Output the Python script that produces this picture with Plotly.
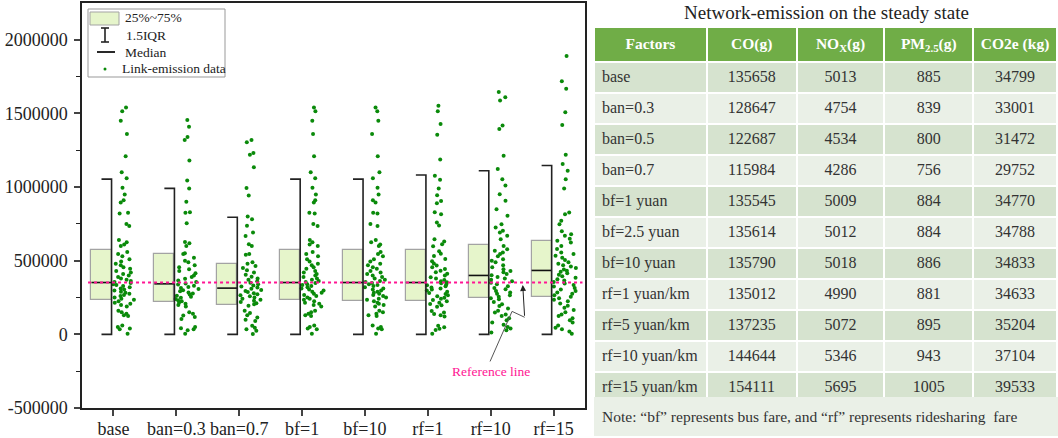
import plotly.graph_objects as go

W, H = 1058, 438

# ---------------- data ----------------
categories = ["base", "ban=0.3", "ban=0.7", "bf=1", "bf=10", "rf=1", "rf=10", "rf=15"]
q1 = [230000, 221000, 200000, 230000, 228000, 225000, 250000, 254000]
median = [352000, 343000, 314000, 352000, 352000, 352000, 400000, 434000]
q3 = [575000, 545000, 480000, 575000, 575000, 570000, 606000, 636000]
whisker_low = [0, 0, 0, 0, 0, 0, 0, 0]
whisker_high = [1054000, 991000, 795000, 1054000, 1054000, 1082000, 1111000, 1147000]
reference_value = 352000

base_pts = [1540000, 1515000, 1450000, 1360000, 1210000, 1100000, 1060000, 995000, 950000, 910000,
            895000, 825000, 820000, 750000, 735000, 640000, 625000, 610000, 600000, 560000,
            545000, 530000, 510000, 495000, 480000, 470000, 455000, 445000, 430000, 420000,
            410000, 400000, 390000, 380000, 370000, 362000, 355000, 348000, 340000, 335000,
            328000, 320000, 312000, 305000, 298000, 290000, 282000, 275000, 268000, 260000,
            250000, 242000, 235000, 225000, 215000, 208000, 200000, 190000, 160000, 150000,
            140000, 130000, 125000, 60000, 50000, 40000, 35000, 5000]
ban03_pts = [1455000, 1410000, 1340000, 1320000, 1180000, 1045000, 990000, 900000, 830000, 825000,
             755000, 628000, 618000, 600000, 550000, 545000, 520000, 500000, 490000, 470000,
             455000, 442000, 430000, 415000, 400000, 390000, 378000, 366000, 355000, 345000,
             338000, 330000, 322000, 315000, 308000, 300000, 292000, 285000, 278000, 270000,
             262000, 255000, 248000, 240000, 232000, 225000, 215000, 208000, 200000, 190000,
             150000, 140000, 128000, 118000, 105000, 50000, 42000, 35000, 28000, 4000]
ban07_pts = [1320000, 1305000, 1232000, 1220000, 1135000, 993000, 943000, 800000, 782000, 737000,
             692000, 668000, 612000, 600000, 545000, 540000, 490000, 480000, 465000, 450000,
             435000, 420000, 405000, 392000, 380000, 370000, 360000, 350000, 340000, 332000,
             325000, 318000, 310000, 302000, 295000, 288000, 280000, 272000, 265000, 258000,
             250000, 242000, 235000, 228000, 220000, 212000, 205000, 195000, 160000, 145000,
             130000, 115000, 100000, 90000, 58000, 45000, 35000, 25000, 3000]
bf1_pts = base_pts
bf10_pts = base_pts
rf1_pts = [1553000, 1515000, 1429000, 1356000, 1188000, 1077000, 1050000, 990000, 945000, 905000,
           890000, 830000, 815000, 760000, 740000, 645000, 630000, 612000, 598000, 565000,
           548000, 532000, 512000, 497000, 482000, 468000, 456000, 444000, 432000, 421000,
           411000, 399000, 388000, 379000, 369000, 361000, 354000, 347000, 339000, 333000,
           327000, 319000, 311000, 304000, 297000, 289000, 281000, 274000, 266000, 259000,
           249000, 241000, 233000, 224000, 214000, 206000, 198000, 188000, 158000, 148000,
           138000, 129000, 122000, 58000, 48000, 38000, 30000, 4000]
rf10_pts = [1645000, 1610000, 1588000, 1418000, 1395000, 1213000, 1122000, 1054000, 1010000, 952000,
            907000, 850000, 805000, 748000, 726000, 703000, 692000, 669000, 646000, 600000,
            578000, 567000, 556000, 545000, 530000, 510000, 500000, 490000, 470000, 455000,
            442000, 430000, 421000, 410000, 401000, 390000, 380000, 370000, 360000, 350000,
            340000, 327000, 315000, 306000, 295000, 285000, 275000, 265000, 255000, 245000,
            238000, 220000, 205000, 193000, 175000, 160000, 148000, 135000, 125000, 110000,
            95000, 80000, 65000, 50000, 40000, 28000, 13000]
rf15_pts = [1890000, 1718000, 1668000, 1508000, 1422000, 1220000, 1156000, 1111000, 1054000, 990000,
            828000, 816000, 771000, 748000, 700000, 680000, 669000, 650000, 635000, 624000,
            600000, 580000, 556000, 545000, 533000, 520000, 505000, 490000, 480000, 470000,
            460000, 450000, 440000, 432000, 425000, 415000, 405000, 395000, 385000, 375000,
            365000, 355000, 345000, 335000, 325000, 315000, 305000, 295000, 285000, 275000,
            265000, 255000, 245000, 235000, 225000, 210000, 195000, 180000, 165000, 150000,
            135000, 125000, 110000, 95000, 80000, 60000, 45000, 34000, 20000, 5000]
points = [base_pts, ban03_pts, ban07_pts, bf1_pts, bf10_pts, rf1_pts, rf10_pts, rf15_pts]

ytick_vals = [-500000, 0, 500000, 1000000, 1500000, 2000000]
ytick_text = ["-500000", "0", "500000", "1000000", "1500000", "2000000"]
yminor_vals = [-250000, 250000, 750000, 1250000, 1750000]

table_title = "Network-emission on the steady state"
table_header = ["Factors", "CO(g)", "NO<sub>X</sub>(g)", "PM<sub>2.5</sub>(g)", "CO2e (kg)"]
factors = ["base", "ban=0.3", "ban=0.5", "ban=0.7", "bf=1 yuan", "bf=2.5 yuan", "bf=10 yuan",
           "rf=1 yuan/km", "rf=5 yuan/km", "rf=10 yuan/km", "rf=15 yuan/km"]
co = [135658, 128647, 122687, 115984, 135545, 135614, 135790, 135012, 137235, 144644, 154111]
nox = [5013, 4754, 4534, 4286, 5009, 5012, 5018, 4990, 5072, 5346, 5695]
pm25 = [885, 839, 800, 756, 884, 884, 886, 881, 895, 943, 1005]
co2e = [34799, 33001, 31472, 29752, 34770, 34788, 34833, 34633, 35204, 37104, 39533]
note_text = "Note: \u201cbf\u201d represents bus fare, and \u201crf\u201d represents ridesharing  fare"

# ---------------- styles ----------------
FONT = "Liberation Serif"
BOX_FILL = "#e6f5cb"
BOX_EDGE = "#a3a3a3"
PT_COLOR = "#0a8a0a"
REF_COLOR = "#ff1493"
HDR_FILL = "#70ad47"
ROW_DARK = "#d6e3cf"
ROW_LIGHT = "#eaf0e7"
NBSP = "\u00a0"


def px(xp):
    return xp / W


def py(yp):
    return 1 - yp / H


idx = list(range(len(categories)))
fig = go.Figure()

# boxes (25%-75%)
fig.add_trace(go.Bar(
    x=idx, base=q1, y=[b - a for a, b in zip(q1, q3)],
    width=0.32, offset=-0.35,
    marker=dict(color=BOX_FILL, line=dict(color=BOX_EDGE, width=1.2)),
    showlegend=False, hoverinfo="skip"))

# medians
mx, my = [], []
for i, m in zip(idx, median):
    mx += [i - 0.35, i - 0.03, None]
    my += [m, m, None]
fig.add_trace(go.Scatter(x=mx, y=my, mode="lines", line=dict(color="#111", width=1.6),
                         showlegend=False, hoverinfo="skip"))

# whisker brackets
wx, wy = [], []
for i, lo, hi in zip(idx, whisker_low, whisker_high):
    wx += [i - 0.19, i - 0.03, i - 0.03, i - 0.19, None]
    wy += [lo, lo, hi, hi, None]
fig.add_trace(go.Scatter(x=wx, y=wy, mode="lines", line=dict(color="#222", width=1.6),
                         showlegend=False, hoverinfo="skip"))

# link-emission points (jittered by plotly)
px_list, py_list = [], []
for i, pts in zip(idx, points):
    px_list += [i] * len(pts)
    py_list += pts
fig.add_trace(go.Box(
    x=px_list, y=py_list, boxpoints="all", jitter=1.0, pointpos=0.9, width=0.38,
    fillcolor="rgba(0,0,0,0)", line=dict(width=0, color="rgba(0,0,0,0)"),
    marker=dict(color=PT_COLOR, size=4, line=dict(width=0)),
    showlegend=False, hoverinfo="skip"))

# table
row_fill = [ROW_DARK if k % 2 == 0 else ROW_LIGHT for k in range(len(factors))]
fig.add_trace(go.Table(
    domain=dict(x=[px(594), 1.0], y=[py(397), py(27)]),
    columnwidth=[113, 90, 88, 89, 84],
    header=dict(values=["<b>" + h.replace(" ", NBSP) + "</b>" for h in table_header],
                fill_color=HDR_FILL, height=28,
                line=dict(color="white", width=2), align="center",
                font=dict(family=FONT, size=15.5, color="white")),
    cells=dict(values=[[f.replace(" ", NBSP) for f in factors], co, nox, pm25, co2e],
               height=31,
               fill=dict(color=[row_fill] * 5),
               line=dict(color="white", width=2),
               align=["left", "center", "center", "center", "center"],
               font=dict(family=FONT, size=16, color="#333"))))

shapes = []
annotations = []

# reference line
shapes.append(dict(type="line", xref="x domain", yref="y", x0=0.012, x1=0.995,
                   y0=reference_value, y1=reference_value,
                   line=dict(color=REF_COLOR, width=2, dash="dot")))
# zigzag arrow to reference line
shapes.append(dict(type="path", xref="x", yref="y",
                   path="M 5.99,-184000 L 6.34,156000 L 6.54,116000",
                   line=dict(color="#555", width=1)))
annotations.append(dict(x=6.51, y=335000, ax=6.54, ay=116000, xref="x", yref="y",
                        axref="x", ayref="y", text="", showarrow=True, arrowhead=2,
                        arrowsize=1.2, arrowwidth=1, arrowcolor="#222"))
annotations.append(dict(x=6.0, y=-250000, xref="x", yref="y", text="Reference line",
                        showarrow=False, font=dict(family=FONT, size=13.5, color=REF_COLOR)))

# manual legend
shapes.append(dict(type="rect", xref="paper", yref="paper", x0=px(88), x1=px(225),
                   y0=py(77), y1=py(9), line=dict(color="#999", width=1), fillcolor="white"))
shapes.append(dict(type="rect", xref="paper", yref="paper", x0=px(90), x1=px(119),
                   y0=py(25), y1=py(12), line=dict(color=BOX_EDGE, width=1), fillcolor=BOX_FILL))
shapes.append(dict(type="line", xref="paper", yref="paper", x0=px(105), x1=px(105),
                   y0=py(42), y1=py(28), line=dict(color="#222", width=1.6)))
for yy in (28, 42):
    shapes.append(dict(type="line", xref="paper", yref="paper", x0=px(101), x1=px(109),
                       y0=py(yy), y1=py(yy), line=dict(color="#222", width=1.6)))
shapes.append(dict(type="line", xref="paper", yref="paper", x0=px(97), x1=px(115),
                   y0=py(52), y1=py(52), line=dict(color="#111", width=1.8)))
shapes.append(dict(type="circle", xref="paper", yref="paper", x0=px(103.5), x1=px(106.5),
                   y0=py(70.5), y1=py(67.5), line=dict(width=0), fillcolor=PT_COLOR))
for label, xx, yy in [("25%~75%", 123, 18), ("1.5IQR", 124, 35), ("Median", 123, 52),
                      ("Link-emission data", 120, 69)]:
    annotations.append(dict(x=px(xx), y=py(yy), xref="paper", yref="paper", text=label,
                            xanchor="left", yanchor="middle", showarrow=False,
                            font=dict(family=FONT, size=13.5, color="#222")))

# table title and note
annotations.append(dict(x=px(826), y=py(13), xref="paper", yref="paper", text=table_title,
                        showarrow=False, xanchor="center", yanchor="middle",
                        font=dict(family=FONT, size=19, color="#222")))
shapes.append(dict(type="rect", xref="paper", yref="paper", x0=px(594), x1=1.0,
                   y0=py(436), y1=py(397), line=dict(width=0), fillcolor=ROW_LIGHT))
annotations.append(dict(x=px(600), y=py(416), xref="paper", yref="paper", text=note_text,
                        showarrow=False, xanchor="left", yanchor="middle",
                        font=dict(family=FONT, size=15.5, color="#333")))

fig.update_layout(
    width=W, height=H, margin=dict(l=0, r=0, t=0, b=0, autoexpand=False),
    paper_bgcolor="white", plot_bgcolor="white", showlegend=False,
    font=dict(family=FONT, size=18, color="#222"),
    shapes=shapes, annotations=annotations, bargap=0,
)
fig.update_xaxes(domain=[px(82), px(585)], range=[-0.5, 7.5], tickmode="array",
                 tickvals=idx, ticktext=categories, ticks="outside", ticklen=6,
                 tickwidth=1.5, showline=True, linecolor="#222", linewidth=1.5,
                 mirror=True, showgrid=False, zeroline=False, ticklabelstandoff=-2,
                 automargin=False,
                 tickfont=dict(family=FONT, size=18, color="#222"))
fig.update_yaxes(domain=[py(408), py(3)], range=[-500000, 2250000], tickmode="array",
                 tickvals=ytick_vals, ticktext=ytick_text, ticks="outside", ticklen=6,
                 tickwidth=1.5, showline=True, linecolor="#222", linewidth=1.5,
                 mirror=True, showgrid=False, zeroline=False, ticklabelstandoff=3,
                 automargin=False,
                 minor=dict(tickmode="array", tickvals=yminor_vals, ticks="outside",
                            ticklen=4, tickwidth=1.2, tickcolor="#222"),
                 tickfont=dict(family=FONT, size=18, color="#222"))

fig.write_html("out.html", config={"displayModeBar": False},
               post_script="document.body.style.margin='0px';")
